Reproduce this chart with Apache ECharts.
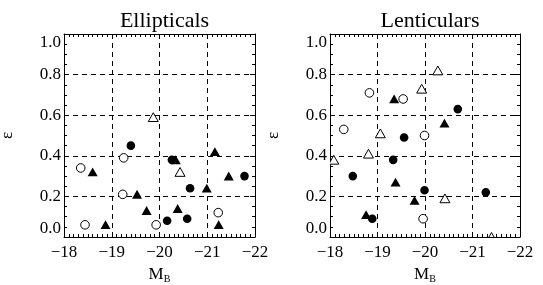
<!DOCTYPE html>
<html>
<head>
<meta charset="utf-8">
<script src="https://cdn.jsdelivr.net/npm/echarts@6/dist/echarts.min.js"></script>
<style>
  html, body { margin: 0; padding: 0; background: #fff; }
  #chart { width: 543px; height: 285px; }
</style>
</head>
<body>
<div id="chart"></div>
<script>
  // 面板标题
  const panelTitles = ['Ellipticals', 'Lenticulars'];

  // 椭圆星系 [M_B, ε]
  const ellFilledCircle = [[-19.40, 0.45], [-20.26, 0.38], [-20.64, 0.24], [-20.16, 0.08], [-20.58, 0.09], [-21.78, 0.30]];
  const ellOpenCircle = [[-18.35, 0.34], [-18.44, 0.06], [-19.25, 0.39], [-19.23, 0.21], [-19.93, 0.06], [-21.23, 0.12]];
  const ellFilledTri = [[-18.60, 0.32], [-18.87, 0.06], [-19.53, 0.21], [-19.73, 0.13], [-20.34, 0.38], [-20.38, 0.14],
                        [-20.99, 0.24], [-21.16, 0.42], [-21.45, 0.30], [-21.24, 0.06]];
  const ellOpenTri = [[-19.87, 0.59], [-20.43, 0.32]];

  // 透镜星系 [M_B, ε]
  const lenFilledCircle = [[-18.48, 0.30], [-18.89, 0.09], [-19.33, 0.38], [-19.56, 0.49], [-19.99, 0.23], [-20.69, 0.63], [-21.28, 0.22]];
  const lenOpenCircle = [[-18.29, 0.53], [-18.83, 0.71], [-19.54, 0.68], [-19.99, 0.50], [-19.96, 0.09]];
  const lenFilledTri = [[-18.76, 0.11], [-19.35, 0.68], [-19.38, 0.27], [-19.78, 0.18], [-20.41, 0.56]];
  const lenOpenTri = [[-18.08, 0.38], [-18.81, 0.41], [-19.06, 0.51], [-19.93, 0.73], [-20.27, 0.82], [-20.42, 0.19], [-21.40, 0.0]];

  // 坐标轴范围
  const xRange = [-22, -18];
  const yRange = [0, 1];

  const font = 'Liberation Serif';
  const grids = [
    { left: 64, top: 34, width: 191, height: 203, outerBoundsMode: 'none' },
    { left: 330, top: 34, width: 190, height: 203, outerBoundsMode: 'none' }
  ];

  const minus = v => String(v).replace('-', '\u2212');

  let xAxes = [], yAxes = [];
  grids.forEach((g, i) => {
    // 下 / 左 主轴
    xAxes.push({
      gridIndex: i, type: 'value', min: xRange[0], max: xRange[1], interval: 1, inverse: true,
      position: 'bottom',
      name: 'M{s|B}', nameLocation: 'middle', nameGap: 26,
      nameTextStyle: { fontFamily: font, fontSize: 17, color: '#000',
        rich: { s: { fontFamily: font, fontSize: 10, color: '#000', padding: [10, 0, 0, 0] } } },
      axisLine: { show: true, onZero: false, lineStyle: { color: '#000', width: 1 } },
      axisTick: { show: true, inside: true, length: 5, lineStyle: { color: '#000' } },
      minorTick: { show: true, splitNumber: 10, length: 3, lineStyle: { color: '#000' } },
      axisLabel: { fontFamily: font, fontSize: 17, color: '#000', margin: 7, formatter: minus },
      splitLine: { show: true, showMinLine: false, showMaxLine: false,
        lineStyle: { color: '#000', type: [5, 4], width: 1 } }
    });
    yAxes.push({
      gridIndex: i, type: 'value', min: yRange[0], max: yRange[1], interval: 0.2,
      position: 'left',
      name: 'ε', nameLocation: 'middle', nameGap: 48,
      nameTextStyle: { fontFamily: font, fontSize: 17, color: '#000' },
      axisLine: { show: true, onZero: false, lineStyle: { color: '#000', width: 1 } },
      axisTick: { show: true, inside: true, length: 5, lineStyle: { color: '#000' } },
      minorTick: { show: true, splitNumber: 4, length: 3, lineStyle: { color: '#000' } },
      axisLabel: { fontFamily: font, fontSize: 17, color: '#000', margin: 3,
        formatter: v => v.toFixed(1),
        verticalAlignMaxLabel: 'top', verticalAlignMinLabel: 'bottom' },
      splitLine: { show: true, showMinLine: false, showMaxLine: false,
        lineStyle: { color: '#000', type: [5, 4], width: 1 } }
    });
    // 上 / 右 镜像轴（只画刻度）
    xAxes.push({
      gridIndex: i, type: 'value', min: xRange[0], max: xRange[1], interval: 1, inverse: true,
      position: 'top',
      axisLine: { show: true, onZero: false, lineStyle: { color: '#000', width: 1 } },
      axisTick: { show: true, inside: true, length: 5, lineStyle: { color: '#000' } },
      minorTick: { show: true, splitNumber: 10, length: 3, lineStyle: { color: '#000' } },
      axisLabel: { show: false }, splitLine: { show: false }
    });
    yAxes.push({
      gridIndex: i, type: 'value', min: yRange[0], max: yRange[1], interval: 0.2,
      position: 'right',
      axisLine: { show: true, onZero: false, lineStyle: { color: '#000', width: 1 } },
      axisTick: { show: true, inside: true, length: 5, lineStyle: { color: '#000' } },
      minorTick: { show: true, splitNumber: 4, length: 3, lineStyle: { color: '#000' } },
      axisLabel: { show: false }, splitLine: { show: false }
    });
  });

  // 四种符号，用 custom 系列画，超出绘图区的部分会被裁掉
  function sym(data, panel, shape, filled) {
    return {
      type: 'custom', xAxisIndex: panel * 2, yAxisIndex: panel * 2,
      clip: true,
      renderItem: (params, api) => {
        const p = api.coord([api.value(0), api.value(1)]);
        const style = filled ? { fill: '#000', stroke: null }
                             : { fill: '#fff', stroke: '#000', lineWidth: 1 };
        if (shape === 'circle') {
          return { type: 'circle', shape: { cx: p[0], cy: p[1], r: 4.3 }, style: style };
        }
        return {
          type: 'polygon',
          shape: { points: [[p[0], p[1] - 4.5], [p[0] + 5, p[1] + 4.3], [p[0] - 5, p[1] + 4.3]] },
          style: style
        };
      },
      emphasis: { disabled: true },
      data: data
    };
  }

  const option = {
    animation: false,
    backgroundColor: '#fff',
    title: panelTitles.map((t, i) => ({
      text: t,
      left: grids[i].left + grids[i].width / 2,
      textAlign: 'center',
      top: 5,
      textStyle: { fontFamily: font, fontSize: 22, fontWeight: 'normal', color: '#000' }
    })),
    grid: grids,
    xAxis: xAxes,
    yAxis: yAxes,
    series: [
      sym(ellOpenCircle, 0, 'circle', false),
      sym(ellOpenTri, 0, 'triangle', false),
      sym(ellFilledCircle, 0, 'circle', true),
      sym(ellFilledTri, 0, 'triangle', true),
      sym(lenOpenCircle, 1, 'circle', false),
      sym(lenOpenTri, 1, 'triangle', false),
      sym(lenFilledCircle, 1, 'circle', true),
      sym(lenFilledTri, 1, 'triangle', true)
    ]
  };

  const chart = echarts.init(document.getElementById('chart'));
  chart.setOption(option);
</script>
</body>
</html>
